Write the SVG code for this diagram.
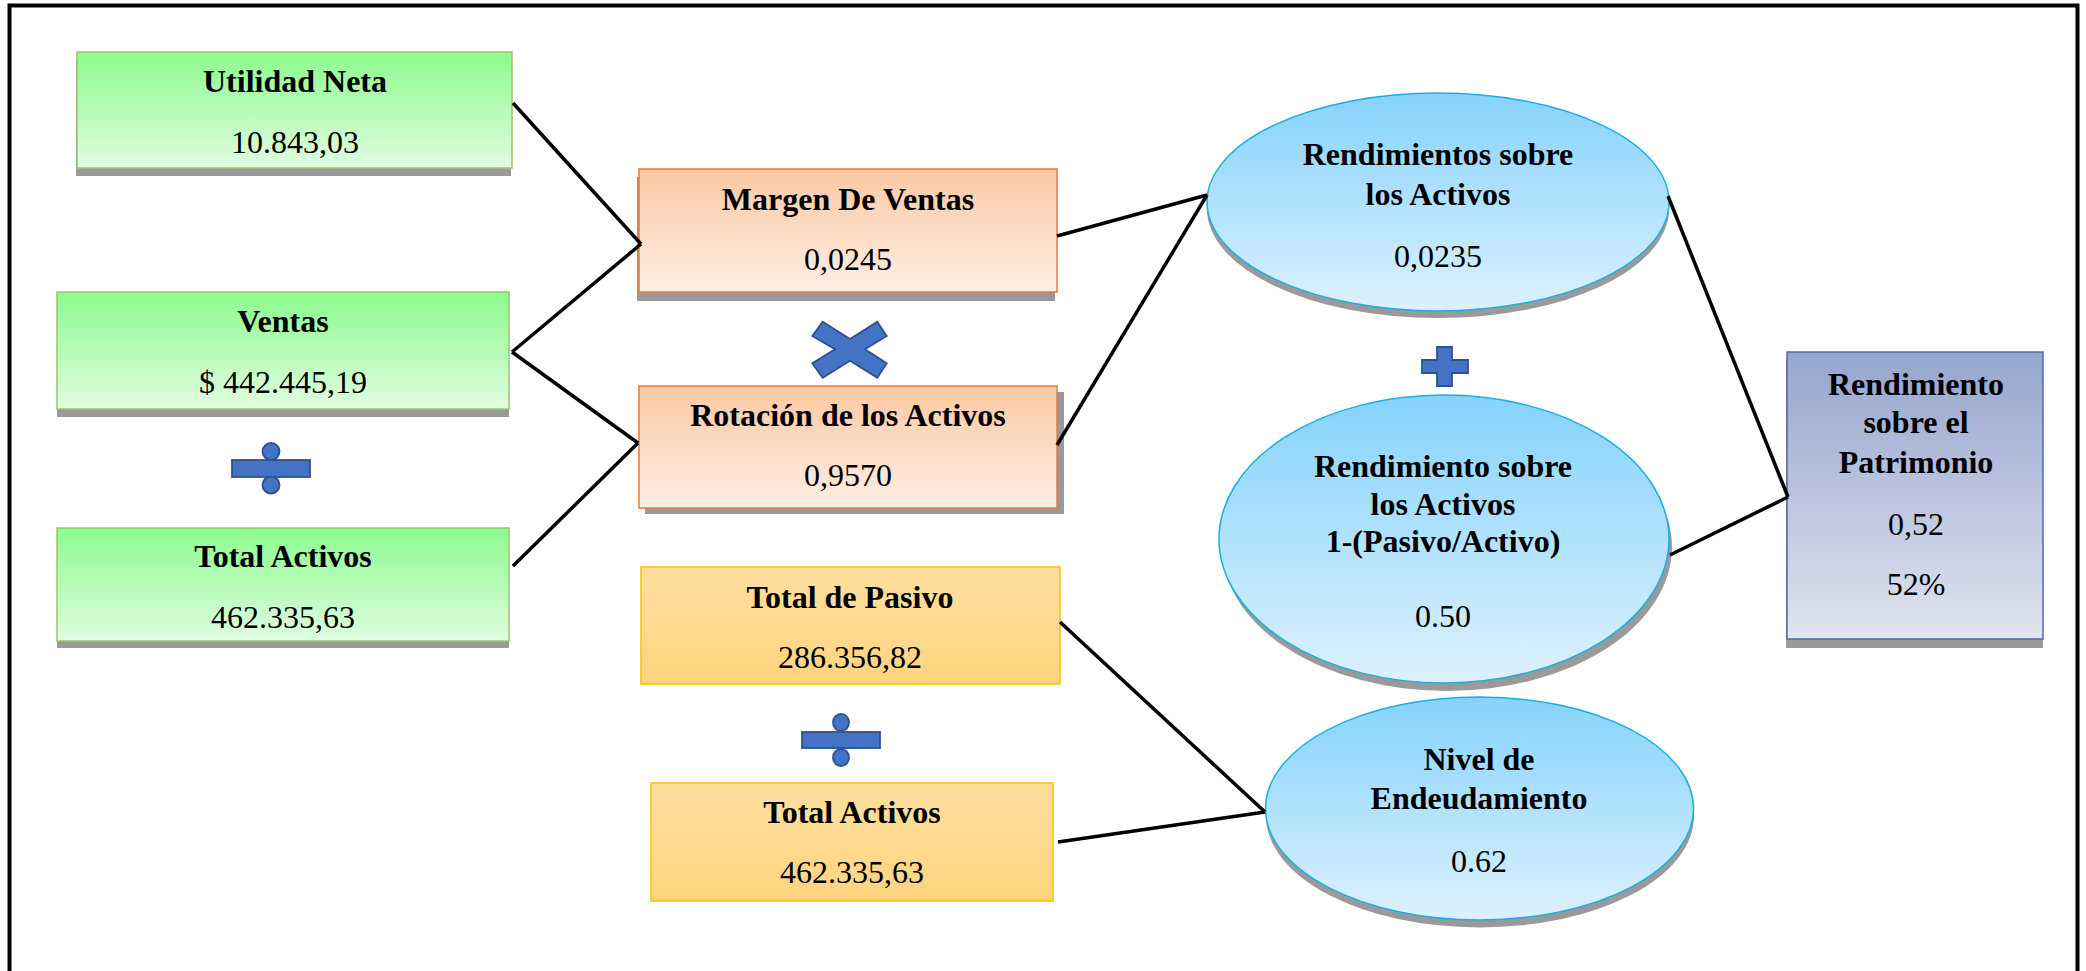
<svg xmlns="http://www.w3.org/2000/svg" width="2086" height="971" viewBox="0 0 2086 971">
<defs>
<linearGradient id="gGreen" x1="0" y1="0" x2="0" y2="1"><stop offset="0" stop-color="#8cfb8e"/><stop offset="1" stop-color="#e0fde1"/></linearGradient>
<linearGradient id="gSalmon" x1="0" y1="0" x2="0" y2="1"><stop offset="0" stop-color="#fbc9a4"/><stop offset="1" stop-color="#feeee4"/></linearGradient>
<linearGradient id="gYellow" x1="0" y1="0" x2="0" y2="1"><stop offset="0" stop-color="#ffdf9f"/><stop offset="1" stop-color="#ffd47e"/></linearGradient>
<linearGradient id="gBlue" x1="0" y1="0" x2="0" y2="1"><stop offset="0" stop-color="#85d3fc"/><stop offset="1" stop-color="#ddf1fe"/></linearGradient>
<linearGradient id="gPurple" x1="0" y1="0" x2="0" y2="1"><stop offset="0" stop-color="#95a5ce"/><stop offset="1" stop-color="#e0e4ef"/></linearGradient>
</defs>
<style>
.sh{fill:#9a9a9a}
.green{fill:url(#gGreen);stroke:#9cc46c;stroke-width:1.5}
.salmon{fill:url(#gSalmon);stroke:#e87a34;stroke-width:1.5}
.yellow{fill:url(#gYellow);stroke:#ffc000;stroke-width:1.5}
.blue{fill:url(#gBlue);stroke:#1aaee8;stroke-width:1.5}
.purple{fill:url(#gPurple);stroke:#4d6ca8;stroke-width:1.5}
.op{fill:#4472c4;stroke:#2f528f;stroke-width:1.8}
.t{font-family:"Liberation Serif","Times New Roman",serif;font-size:32px;fill:#000;text-anchor:middle}
.b{font-weight:bold}
.conn line{stroke:#000;stroke-width:3.5;stroke-linecap:butt}
</style>
<rect width="2086" height="971" fill="#fff"/>
<path d="M9.5,971 V5.5 H2077.5 V971" fill="none" stroke="#000" stroke-width="4"/>

<g id="utilidad-neta">
<rect class="sh" x="76" y="60" width="435" height="116"/>
<rect class="green" x="77" y="52" width="435" height="116"/>
<text class="t b" x="295" y="92">Utilidad Neta</text>
<text class="t" x="295" y="153">10.843,03</text>
</g>

<g id="ventas">
<rect class="sh" x="57" y="300" width="452" height="117"/>
<rect class="green" x="57" y="292" width="452" height="117"/>
<text class="t b" x="283" y="332">Ventas</text>
<text class="t" x="283" y="393">$ 442.445,19</text>
</g>

<g id="div-left">
<ellipse class="op" cx="271" cy="451.5" rx="8.5" ry="8.5"/>
<ellipse class="op" cx="271" cy="485" rx="8.5" ry="8.5"/>
<rect class="op" x="232" y="460" width="78" height="17"/>
</g>

<g id="total-activos-1">
<rect class="sh" x="57" y="535" width="452" height="113"/>
<rect class="green" x="57" y="528" width="452" height="113"/>
<text class="t b" x="283" y="567">Total Activos</text>
<text class="t" x="283" y="628">462.335,63</text>
</g>

<g id="margen-ventas">
<rect class="sh" x="637" y="177" width="418" height="124"/>
<rect class="salmon" x="639" y="169" width="418" height="123"/>
<text class="t b" x="848" y="210">Margen De Ventas</text>
<text class="t" x="848" y="270">0,0245</text>
</g>

<g id="mult">
<polygon class="op" points="822.7,321.7 850,339 877.3,321.7 886.7,336 865,349.3 886.7,363.3 877.3,377.7 850,360.7 822.7,377.7 812.3,363.3 835,349.3 812.3,336"/>
</g>

<g id="rotacion-activos">
<rect class="sh" x="645" y="392" width="419" height="122"/>
<rect class="salmon" x="639" y="386" width="418" height="122"/>
<text class="t b" x="848" y="426">Rotación de los Activos</text>
<text class="t" x="848" y="486">0,9570</text>
</g>

<g id="total-pasivo">
<rect class="yellow" x="641" y="567" width="419" height="117"/>
<text class="t b" x="850" y="608">Total de Pasivo</text>
<text class="t" x="850" y="668">286.356,82</text>
</g>

<g id="div-right">
<ellipse class="op" cx="841" cy="722.5" rx="8" ry="8.5"/>
<ellipse class="op" cx="841" cy="757.5" rx="8" ry="8.5"/>
<rect class="op" x="802" y="732" width="78" height="16"/>
</g>

<g id="total-activos-2">
<rect class="yellow" x="651" y="783" width="402" height="118"/>
<text class="t b" x="852" y="823">Total Activos</text>
<text class="t" x="852" y="883">462.335,63</text>
</g>

<g id="roa">
<ellipse class="sh" cx="1438" cy="209" rx="231" ry="109"/>
<ellipse class="blue" cx="1438" cy="202" rx="231" ry="109"/>
<text class="t b" x="1438" y="165">Rendimientos sobre</text>
<text class="t b" x="1438" y="205">los Activos</text>
<text class="t" x="1438" y="267">0,0235</text>
</g>

<g id="plus">
<polygon class="op" points="1437,347 1452,347 1452,360 1468,360 1468,373 1452,373 1452,386 1437,386 1437,373 1422,373 1422,360 1437,360"/>
</g>

<g id="roa-2">
<ellipse class="sh" cx="1447" cy="547" rx="225" ry="144"/>
<ellipse class="blue" cx="1444" cy="539" rx="225" ry="144"/>
<text class="t b" x="1443" y="477">Rendimiento sobre</text>
<text class="t b" x="1443" y="515">los Activos</text>
<text class="t b" x="1443" y="552">1-(Pasivo/Activo)</text>
<text class="t" x="1443" y="627">0.50</text>
</g>

<g id="nivel-endeudamiento">
<ellipse class="sh" cx="1480" cy="816" rx="214" ry="111.5"/>
<ellipse class="blue" cx="1479.5" cy="808.5" rx="214" ry="111.5"/>
<text class="t b" x="1479" y="770">Nivel de</text>
<text class="t b" x="1479" y="809">Endeudamiento</text>
<text class="t" x="1479" y="872">0.62</text>
</g>

<g id="roe">
<rect class="sh" x="1786" y="360" width="257" height="288"/>
<rect class="purple" x="1787" y="352" width="256" height="287"/>
<text class="t b" x="1916" y="395">Rendimiento</text>
<text class="t b" x="1916" y="433">sobre el</text>
<text class="t b" x="1916" y="473">Patrimonio</text>
<text class="t" x="1916" y="535">0,52</text>
<text class="t" x="1916" y="595">52%</text>
</g>

<g id="connectors" class="conn">
<line x1="513" y1="103" x2="641" y2="244"/>
<line x1="512" y1="352" x2="641" y2="244"/>
<line x1="512" y1="352" x2="638" y2="443"/>
<line x1="513" y1="566" x2="638" y2="443"/>
<line x1="1057" y1="236" x2="1207" y2="195"/>
<line x1="1057" y1="445" x2="1207" y2="195"/>
<line x1="1060" y1="622" x2="1265" y2="812"/>
<line x1="1058" y1="842" x2="1265" y2="812"/>
<line x1="1668" y1="196" x2="1788" y2="497"/>
<line x1="1670" y1="555" x2="1788" y2="497"/>
</g>
</svg>
